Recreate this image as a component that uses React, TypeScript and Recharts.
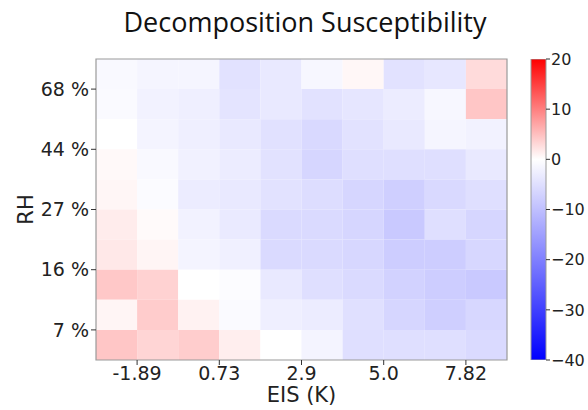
import React from 'react';
import { ComposedChart, BarChart, Bar, XAxis, YAxis, ReferenceArea, Label } from 'recharts';

// tick labels
const eisLabels = ['-1.89', '0.73', '2.9', '5.0', '7.82'];
const rhLabels = ['7 %', '16 %', '27 %', '44 %', '68 %'];
const cbarTicks = [-40, -30, -20, -10, 0, 10, 20];

// susceptibility grid, rows listed from top (highest RH) to bottom
const row1 = [-1, -1.5, -1.5, -4.5, -3.5, -1.3, 0.6, -4.5, -3.8, 2.8];
const row2 = [-0.8, -2, -2.5, -4.3, -3.5, -4.5, -4, -3, -1.3, 4.5];
const row3 = [0, -1.8, -2.5, -3.5, -4.7, -6, -4.5, -3.5, -1.5, -2];
const row4 = [0.5, -1, -2.2, -3, -4.5, -6.5, -5, -5, -5, -3.5];
const row5 = [0.7, -0.6, -3, -3.5, -4.5, -5.3, -6.5, -7.5, -6, -5];
const row6 = [1.5, 0.4, -2, -3.3, -5.8, -5.8, -6.5, -8.5, -5, -6.5];
const row7 = [1.8, 0.8, -1.7, -2.3, -5.8, -5.8, -6.2, -7.8, -7.8, -6.3];
const row8 = [4.3, 3.5, 0, -0.5, -3.5, -5, -5.8, -7, -7.8, -8.5];
const row9 = [0.8, 4, 1, -0.8, -2.5, -3, -4.8, -6.5, -7.5, -6.3];
const row10 = [4.5, 3.3, 3.9, 1.3, 0, -1.8, -5, -5, -5, -5.8];
const rows = [row1, row2, row3, row4, row5, row6, row7, row8, row9, row10];

const VMIN = -40;
const VMAX = 20;

// bwr colormap with the white point at zero
const bwr = (v: number) => {
  if (v >= 0) {
    const c = Math.round(255 * (1 - Math.min(v, VMAX) / VMAX));
    return `rgb(255,${c},${c})`;
  }
  const c = Math.round(255 * (1 - Math.max(v, VMIN) / VMIN));
  return `rgb(${c},${c},255)`;
};

const cells = rows.flatMap((row, r) =>
  row.map((v, c) => ({ x1: c, x2: c + 1, y1: rows.length - 1 - r, y2: rows.length - r, v }))
);

const cbarData = [{ name: 'cbar', range: [VMIN, VMAX] }];

const font = 'DejaVu Sans, sans-serif';
const W = 588;
const H = 410;

export default function App() {
  return (
    <div style={{ position: 'absolute', left: 0, top: 0, width: W, height: H, background: '#fff' }}>
      {/* gradient for the colorbar, referenced by id from the second chart */}
      <svg width={0} height={0} style={{ position: 'absolute' }}>
        <defs>
          <linearGradient id="bwrBar" x1="0" y1="0" x2="0" y2="1">
            <stop offset="0" stopColor="#ff0000" />
            <stop offset={VMAX / (VMAX - VMIN)} stopColor="#ffffff" />
            <stop offset="1" stopColor="#0000ff" />
          </linearGradient>
        </defs>
      </svg>

      <div
        style={{
          position: 'absolute',
          left: 0,
          top: 4,
          width: 610,
          textAlign: 'center',
          fontFamily: 'Open Sans, sans-serif',
          fontSize: 27,
          color: '#111',
          lineHeight: '36px',
        }}
      >
        Decomposition Susceptibility
      </div>

      <div style={{ position: 'absolute', left: 0, top: 0 }}>
        <ComposedChart width={W} height={H} margin={{ top: 59, right: 81, left: 36, bottom: 20 }}>
          <XAxis
            type="number"
            dataKey="x"
            domain={[0, 10]}
            ticks={[1, 3, 5, 7, 9]}
            tickFormatter={(v: number) => eisLabels[(v - 1) / 2]}
            allowDataOverflow
            height={30}
            axisLine={false}
            tickLine={{ stroke: '#333' }}
            tickSize={5}
            tick={{ fontFamily: font, fontSize: 19, fill: '#222' }}
          >
            <Label
              value="EIS (K)"
              position="insideBottom"
              offset={-12}
              style={{ fontFamily: font, fontSize: 21, fill: '#222' }}
            />
          </XAxis>
          <YAxis
            type="number"
            domain={[0, 10]}
            ticks={[1, 3, 5, 7, 9]}
            tickFormatter={(v: number) => rhLabels[(v - 1) / 2]}
            allowDataOverflow
            width={60}
            axisLine={false}
            tickLine={{ stroke: '#333' }}
            tickSize={5}
            tick={{ fontFamily: font, fontSize: 19, fill: '#222' }}
          >
            <Label
              value="RH"
              angle={-90}
              position="insideLeft"
              offset={-10}
              style={{ fontFamily: font, fontSize: 21, fill: '#222', textAnchor: 'middle' }}
            />
          </YAxis>
          {cells.map((d, i) => (
            <ReferenceArea
              key={i}
              x1={d.x1}
              x2={d.x2}
              y1={d.y1}
              y2={d.y2}
              fill={bwr(d.v)}
              fillOpacity={1}
              stroke="none"
              ifOverflow="visible"
            />
          ))}
          <ReferenceArea x1={0} x2={10} y1={0} y2={10} fill="none" stroke="#9a9a9a" strokeWidth={1.2} ifOverflow="visible" />
        </ComposedChart>
      </div>

      <div style={{ position: 'absolute', left: 0, top: 0 }}>
        <BarChart
          width={W}
          height={H}
          data={cbarData}
          margin={{ top: 59, right: 2, left: 531, bottom: 50 }}
          barCategoryGap={0}
        >
          <XAxis dataKey="name" type="category" height={0} axisLine={false} tickLine={false} tick={false} />
          <YAxis
            type="number"
            orientation="right"
            domain={[VMIN, VMAX]}
            ticks={cbarTicks}
            tickFormatter={(v: number) => (v < 0 ? `\u2212${Math.abs(v)}` : `${v}`)}
            allowDataOverflow
            width={40}
            axisLine={false}
            tickLine={{ stroke: '#333' }}
            tickSize={4}
            tickMargin={1}
            tick={{ fontFamily: font, fontSize: 16, fill: '#222' }}
          />
          <Bar dataKey="range" fill="url(#bwrBar)" stroke="#9a9a9a" strokeWidth={1} isAnimationActive={false} />
        </BarChart>
      </div>
    </div>
  );
}
